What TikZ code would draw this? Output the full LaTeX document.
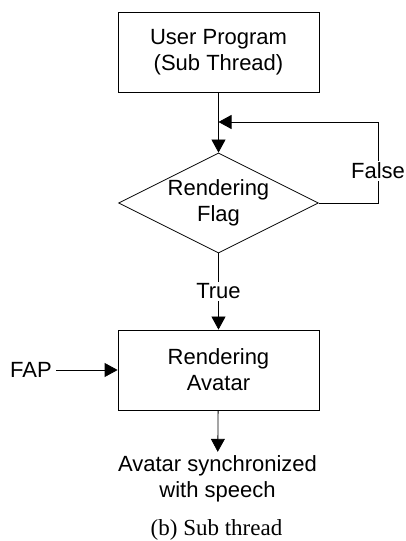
\documentclass[tikz,border=0pt]{standalone}
\usepackage{fontspec}
\setmainfont{Liberation Sans}
\newfontfamily\capfont{Liberation Serif}
\usetikzlibrary{arrows.meta,shapes.geometric}

\begin{document}
\begin{tikzpicture}[x=1pt,y=1pt,font=\fontsize{22}{26}\selectfont,line width=0.8pt,
  >={Triangle[length=13pt,width=14pt]},
  box/.style={draw,minimum width=201pt,minimum height=80pt,align=center,inner sep=0pt},
  cond/.style={draw,diamond,aspect=2,minimum width=200pt,minimum height=100pt,align=center,inner sep=0pt},
  lbl/.style={fill=white,inner sep=2pt,align=center}]
\useasboundingbox (0,0) rectangle (405,541);
\node[box] (prog) at (218.5,489) {User Program\\(Sub Thread)};
\node[cond] (flag) at (218.5,338) {Rendering\\Flag};
\node[box] (render) at (218.5,171) {Rendering\\Avatar};
\node[inner sep=4pt] (fap) at (31,171) {FAP};
\node[align=center,inner sep=3pt] (out) at (217.5,62.5) {Avatar synchronized\\with speech};
\node[font=\capfont\fontsize{23}{27}\selectfont] (cap) at (216.5,11) {(b) Sub thread};
\coordinate (loop) at (378,419);
\draw[->] (prog) -- (flag);
\draw[->] (flag.east) -| (loop) node[lbl,pos=0.7]{False} -- (prog.south |- loop);
\draw[->] (flag) -- node[lbl]{True} (render);
\draw[->] (fap) -- (render);
\draw[->] (render) -- (out);
\end{tikzpicture}
\end{document}
